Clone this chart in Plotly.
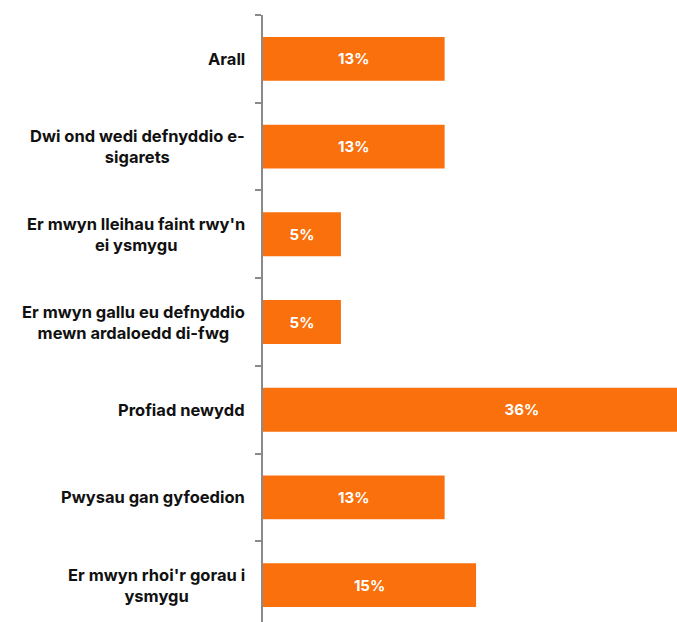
import plotly.graph_objects as go

# --- Dados ---
categorias = [
    "Arall",
    "Dwi ond wedi defnyddio e-<br>sigarets",
    "Er mwyn lleihau faint rwy'n<br>ei ysmygu",
    "Er mwyn gallu eu defnyddio<br>mewn ardaloedd di-fwg",
    "Profiad newydd",
    "Pwysau gan gyfoedion",
    "Er mwyn rhoi'r gorau i<br>ysmygu",
]
valores = [12.7, 12.7, 5.45, 5.45, 36.2, 12.7, 14.9]
rotulos = ["13%", "13%", "5%", "5%", "36%", "13%", "15%"]

laranja = "#F9700D"
fonte = "Inter, 'Open Sans', sans-serif"

fig = go.Figure()

fig.add_trace(go.Bar(
    y=categorias,
    x=valores,
    orientation="h",
    marker=dict(color=laranja, line=dict(width=0)),
    text=rotulos,
    textposition="inside",
    insidetextanchor="middle",
    textangle=0,
    textfont=dict(family=fonte, size=15, color="white", weight="bold"),
    hoverinfo="skip",
))

# Rótulos das categorias (centrados, como no original)
for cat in categorias:
    fig.add_annotation(
        x=0, xref="paper", y=cat, yref="y",
        text=cat, showarrow=False,
        xanchor="right", yanchor="middle", align="center",
        xshift=-16,
        font=dict(family=fonte, size=16.5, color="#111111", weight="bold"),
    )

fig.update_layout(
    width=677, height=622,
    margin=dict(l=263, r=0, t=15, b=0),
    paper_bgcolor="white",
    plot_bgcolor="white",
    bargap=0.5,
    showlegend=False,
)

fig.update_xaxes(
    range=[0, 28.95],
    visible=False,
    showgrid=False,
    zeroline=False,
)

fig.update_yaxes(
    range=[6.42, -0.5],
    showticklabels=False,
    showgrid=False,
    zeroline=False,
    showline=True,
    linecolor="#8a8a8a",
    linewidth=1.5,
    ticks="outside",
    tickson="boundaries",
    ticklen=6,
    tickcolor="#8a8a8a",
    tickwidth=1.5,
)

# sem margem da página, para a figura ocupar a janela toda
fig.write_html(
    "out.html",
    config={"displayModeBar": False},
    post_script="document.body.style.margin='0';",
)
